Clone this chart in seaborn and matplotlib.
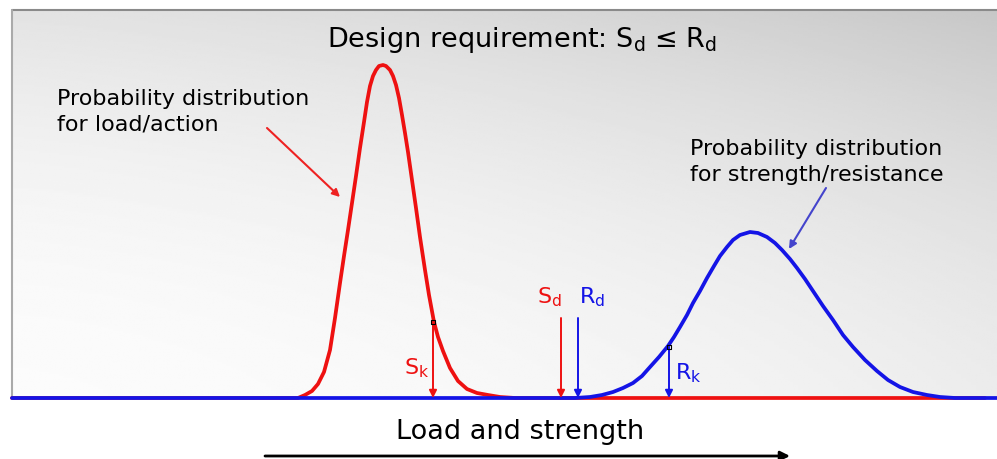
import matplotlib.pyplot as plt
import seaborn as sns
import numpy as np

sns.set_theme(style="white")
plt.rcParams['font.family'] = ['DejaVu Sans']

# load curve (x position, height above baseline)
red_x = [12, 298, 305, 312, 318, 324, 330, 335, 340, 344, 348, 352, 356, 360,
         364, 367, 370, 373, 376, 379, 383, 386, 390, 393, 396, 399, 402, 405,
         408, 412, 416, 420, 425, 429, 434, 438, 443, 450, 458, 467, 477, 488,
         500, 515, 985]
red_h = [0, 0, 3, 7, 14, 26, 48, 80, 115, 142, 168, 195, 222, 250,
         276, 296, 312, 322, 328, 332, 333, 332, 328, 322, 313, 300, 283, 265,
         246, 218, 190, 161, 128, 103, 76, 61, 47, 30, 17, 9, 5, 3,
         1, 0, 0]

# strength curve
blue_x = [12, 575, 590, 602, 613, 623, 633, 642, 650, 659, 668, 674, 680, 687,
          693, 700, 707, 714, 720, 727, 733, 740, 750, 758, 767, 775, 782, 790,
          797, 805, 813, 823, 833, 843, 853, 865, 877, 888, 900, 913, 927, 940,
          955, 997]
blue_h = [0, 0, 1, 3, 6, 10, 15, 22, 31, 41, 52, 61, 71, 83,
          95, 107, 120, 132, 142, 151, 158, 163, 166, 165, 161, 155, 148, 139,
          130, 119, 107, 92, 78, 63, 51, 38, 27, 18, 11, 6, 3, 1,
          0, 0]

# characteristic / design values
s_k, s_k_h = 433, 76
r_k, r_k_h = 669, 51
s_d, r_d = 561, 578
design_h = 80

RED = "#ee1111"
BLUE = "#1414e6"

fig = plt.figure(figsize=(9.97, 4.59), dpi=100)
ax = fig.add_axes([0, 0, 1, 1])
ax.set_xlim(0, 997)
ax.set_ylim(-61, 398)
ax.axis("off")

# grey slide-like background, light at lower left, darker at upper right
gx, gy = np.meshgrid(np.linspace(0, 1, 200), np.linspace(0, 1, 200))
shade = 0.985 - 0.095 * gy ** 2 - 0.06 * gx ** 2 - 0.05 * gx * gy
ax.imshow(shade, cmap="gray", vmin=0, vmax=1, origin="lower",
          extent=(12, 997, 0, 388), aspect="auto", zorder=0)
ax.plot([12, 997], [388, 388], color="#8a8a8a", lw=1.5, zorder=1)
ax.plot([12, 12], [0, 388], color="#aaaaaa", lw=1.5, zorder=1)

sns.lineplot(x=red_x, y=red_h, color=RED, lw=2.7, ax=ax, estimator=None,
             sort=False, zorder=3)
sns.lineplot(x=blue_x, y=blue_h, color=BLUE, lw=2.7, ax=ax, estimator=None,
             sort=False, zorder=4)

arrow = dict(arrowstyle="-|>", lw=1.4, mutation_scale=11, shrinkA=0, shrinkB=0)
for x0, h0, col in [(s_k, s_k_h, RED), (s_d, design_h, RED),
                    (r_d, design_h, BLUE), (r_k, r_k_h, BLUE)]:
    ax.annotate("", xy=(x0, 0), xytext=(x0, h0),
                arrowprops=dict(arrow, color=col), zorder=5)
ax.scatter([s_k, r_k], [s_k_h, r_k_h], marker="s", s=8, facecolor="none",
           edgecolor="black", lw=0.8, zorder=6)

ax.text(417, 30, "S$_\\mathrm{k}$", color=RED, fontsize=16, ha="center", va="center")
ax.text(549, 101, "S$_\\mathrm{d}$", color=RED, fontsize=16, ha="center", va="center")
ax.text(592, 101, "R$_\\mathrm{d}$", color=BLUE, fontsize=16, ha="center", va="center")
ax.text(688, 25, "R$_\\mathrm{k}$", color=BLUE, fontsize=16, ha="center", va="center")

ax.text(522, 358, "Design requirement: S$_\\mathrm{d}$ ≤ R$_\\mathrm{d}$",
        fontsize=19.5, ha="center", va="center", color="black")
ax.text(57, 286, "Probability distribution\nfor load/action", fontsize=16,
        ha="left", va="center", linespacing=1.35, color="black")
ax.text(690, 236, "Probability distribution\nfor strength/resistance", fontsize=16,
        ha="left", va="center", linespacing=1.35, color="black")

ax.annotate("", xy=(340, 201), xytext=(267, 270),
            arrowprops=dict(arrow, color="#ee2222", lw=1.5))
ax.annotate("", xy=(789, 149), xytext=(826, 210),
            arrowprops=dict(arrow, color="#4444cc", lw=1.5))

ax.text(520, -34, "Load and strength", fontsize=19.5, ha="center", va="center",
        color="black")
ax.annotate("", xy=(790, -58), xytext=(265, -58),
            arrowprops=dict(arrowstyle="-|>", lw=2, color="black",
                            mutation_scale=14, shrinkA=0, shrinkB=0))

fig.savefig("out.png", dpi=100)
plt.close(fig)
